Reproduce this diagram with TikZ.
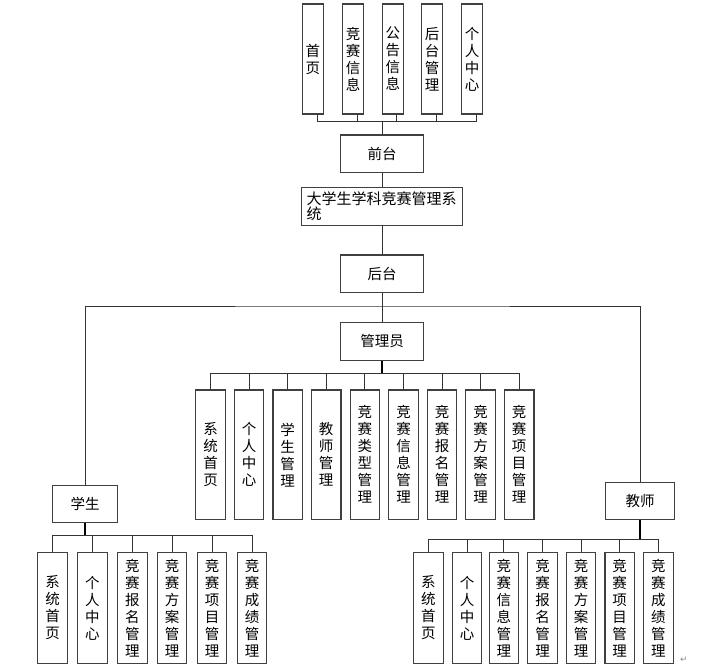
\documentclass[tikz,border=0pt]{standalone}
\usepackage{fontspec}
\setmainfont{Noto Sans CJK SC}
\newfontfamily\arrowfont{DejaVu Sans}
\tikzset{
	leaf/.style={draw=black!75, line width=1.1pt, inner sep=0, align=center, font=\fontsize{14.5}{17}\selectfont},
	topleaf/.style={leaf, minimum width=21, minimum height=110},
	admleaf/.style={leaf, minimum width=29.5, minimum height=129.5},
	userleaf/.style={leaf, minimum width=29.5, minimum height=111},
	boxnode/.style={leaf, minimum width=83, minimum height=37.5},
	link/.style={draw=black!80, line width=0.8pt},
	trunk/.style={draw=black, line width=1.8pt}
}
\begin{document}
\begin{tikzpicture}[x=1pt, y=-1pt]
	\useasboundingbox (0,0) rectangle (725,670);
	% front end
	\node (t1) [topleaf] at (312.8,59) {首\\页};
	\node (t2) [topleaf] at (353,59) {竞\\赛\\信\\息};
	\node (t3) [topleaf] at (392.8,59) {公\\告\\信\\息};
	\node (t4) [topleaf] at (432.2,59) {后\\台\\管\\理};
	\node (t5) [topleaf] at (472.2,59) {个\\人\\中\\心};
	\node (qt) [boxnode] at (382,153.7) {前台};
	\node (xt) [leaf, minimum width=161, minimum height=37.7, text width=151, align=left, font=\fontsize{15}{15}\selectfont] at (382,206.2) {大学生学科竞赛管理系\\统};
	\node (ht) [boxnode] at (382,273.7) {后台};
	% admin
	\node (gly) [boxnode] at (382,341.3) {管理员};
	\node (a1) [admleaf] at (210.5,454.7) {系\\统\\首\\页};
	\node (a2) [admleaf] at (249,454.7) {个\\人\\中\\心};
	\node (a3) [admleaf] at (287.7,454.7) {学\\生\\管\\理};
	\node (a4) [admleaf] at (326.2,454.7) {教\\师\\管\\理};
	\node (a5) [admleaf] at (364.8,454.7) {竞\\赛\\类\\型\\管\\理};
	\node (a6) [admleaf] at (403.5,454.7) {竞\\赛\\信\\息\\管\\理};
	\node (a7) [admleaf] at (442,454.7) {竞\\赛\\报\\名\\管\\理};
	\node (a8) [admleaf] at (480.6,454.7) {竞\\赛\\方\\案\\管\\理};
	\node (a9) [admleaf] at (519.2,454.7) {竞\\赛\\项\\目\\管\\理};
	% student
	\node (xs) [boxnode, minimum width=65, minimum height=37] at (85,504) {学生};
	\node (s1) [userleaf] at (52.5,608) {系\\统\\首\\页};
	\node (s2) [userleaf] at (92.3,608) {个\\人\\中\\心};
	\node (s3) [userleaf] at (132.3,608) {竞\\赛\\报\\名\\管\\理};
	\node (s4) [userleaf] at (172.1,608) {竞\\赛\\方\\案\\管\\理};
	\node (s5) [userleaf] at (212,608) {竞\\赛\\项\\目\\管\\理};
	\node (s6) [userleaf] at (252,608) {竞\\赛\\成\\绩\\管\\理};
	% teacher
	\node (js) [boxnode, minimum width=69.4, minimum height=37] at (640,500.8) {教师};
	\node (j1) [userleaf, minimum width=30] at (428.4,608) {系\\统\\首\\页};
	\node (j2) [userleaf] at (467,608) {个\\人\\中\\心};
	\node (j3) [userleaf] at (503.8,608) {竞\\赛\\信\\息\\管\\理};
	\node (j4) [userleaf] at (542.5,608) {竞\\赛\\报\\名\\管\\理};
	\node (j5) [userleaf] at (581,608) {竞\\赛\\方\\案\\管\\理};
	\node (j6) [userleaf] at (619.7,608) {竞\\赛\\项\\目\\管\\理};
	\node (j7) [userleaf] at (658.3,608) {竞\\赛\\成\\绩\\管\\理};
	\node (pm) [text=black!45, font=\arrowfont\fontsize{9}{9}\selectfont, inner sep=0] at (684,660) {↵};
	% buses
	\coordinate (qb) at (382,121.7);
	\coordinate (hb) at (382,306);
	\coordinate (ab) at (382,373.3);
	\coordinate (sb) at (85,535.7);
	\coordinate (jb) at (640,539);
	\draw[link] ([xshift=4.5]t1.south) |- (qb);
	\draw[link] ([xshift=4.5]t2.south) |- (qb);
	\draw[link] ([xshift=4]t3.south) |- (qb);
	\draw[link] ([xshift=4.5]t4.south) |- (qb);
	\draw[link] ([xshift=4]t5.south) |- (qb);
	\draw[link] (qb) -- (qt.north);
	\draw[link] (qt.south) -- (xt.north);
	\draw[link] (xt.south) -- (ht.north);
	\draw[link] (ht.south) -- (hb);
	\draw[link] (hb) -- (gly.north);
	\draw[link] (xs.north) |- (hb) -| (js.north);
	\draw[trunk] (gly.south) -- (ab);
	\draw[link] (a1.north) |- (ab);
	\draw[link] (a2.north) |- (ab);
	\draw[link] (a3.north) |- (ab);
	\draw[link] (a4.north) |- (ab);
	\draw[link] (a5.north) |- (ab);
	\draw[link] (a6.north) |- (ab);
	\draw[link] (a7.north) |- (ab);
	\draw[link] (a8.north) |- (ab);
	\draw[link] (a9.north) |- (ab);
	\draw[trunk] (xs.south) -- (sb);
	\draw[link] (s1.north) |- (sb);
	\draw[link] (s2.north) |- (sb);
	\draw[link] (s3.north) |- (sb);
	\draw[link] (s4.north) |- (sb);
	\draw[link] (s5.north) |- (sb);
	\draw[link] (s6.north) |- (sb);
	\draw[trunk] (js.south) -- (jb);
	\draw[link] (j1.north) |- (jb);
	\draw[link] (j2.north) |- (jb);
	\draw[link] (j3.north) |- (jb);
	\draw[link] (j4.north) |- (jb);
	\draw[link] (j5.north) |- (jb);
	\draw[link] (j6.north) |- (jb);
	\draw[link] (j7.north) |- (jb);
\end{tikzpicture}
\end{document}
